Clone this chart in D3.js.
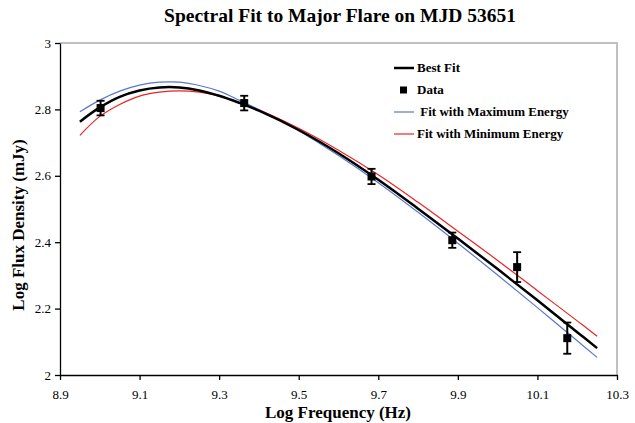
<!DOCTYPE html>
<html>
<head>
<meta charset="utf-8">
<script src="https://cdn.jsdelivr.net/npm/d3@7"></script>
<style>
  body { margin: 0; background: #fff; }
  svg { display: block; font-family: "Liberation Serif", "Times New Roman", serif; }
</style>
</head>
<body>
<div id="chart"></div>
<script>
// fit curves sampled at these log frequencies
const fitFreq = [8.95, 9.0, 9.05, 9.1, 9.15, 9.2, 9.25, 9.3, 9.35, 9.4, 9.5, 9.6, 9.7, 9.8, 9.9, 10.0, 10.1, 10.2, 10.25];
const bestFit = [2.763, 2.806, 2.838, 2.857, 2.866, 2.866, 2.857, 2.841, 2.820, 2.796, 2.738, 2.668, 2.588, 2.501, 2.411, 2.319, 2.225, 2.129, 2.081];
const maxEnergyFit = [2.793, 2.828, 2.855, 2.873, 2.882, 2.882, 2.872, 2.855, 2.828, 2.799, 2.736, 2.661, 2.579, 2.490, 2.397, 2.301, 2.203, 2.103, 2.053];
const minEnergyFit = [2.722, 2.779, 2.815, 2.840, 2.852, 2.856, 2.852, 2.840, 2.821, 2.799, 2.743, 2.677, 2.603, 2.520, 2.433, 2.345, 2.254, 2.163, 2.117];

// observed points
const dataFreq = [9.002, 9.363, 9.683, 9.886, 10.049, 10.175];
const dataFlux = [2.804, 2.819, 2.598, 2.406, 2.325, 2.111];
const dataErr = [0.022, 0.022, 0.023, 0.023, 0.045, 0.047];

const xTicks = [8.9, 9.1, 9.3, 9.5, 9.7, 9.9, 10.1, 10.3];
const yTicks = [2, 2.2, 2.4, 2.6, 2.8, 3];

const legendItems = [
    { label: "Best Fit", type: "line", color: "#000", width: 2.5 },
    { label: "Data", type: "marker", color: "#000" },
    { label: " Fit with Maximum Energy", type: "line", color: "#5a78cc", width: 1.2 },
    { label: "Fit with Minimum Energy", type: "line", color: "#ee2222", width: 1.2 }
];

const width = 635;
const height = 423;
const margin = { top: 43, right: 18, bottom: 48, left: 60 };

const svg = d3.select("#chart").append("svg")
    .attr("width", width)
    .attr("height", height);

const x = d3.scaleLinear()
    .domain([8.9, 10.3])
    .range([margin.left, width - margin.right]);

const y = d3.scaleLinear()
    .domain([2, 3])
    .range([height - margin.bottom, margin.top]);

// plot area border (top and right, grey)
svg.append("path")
    .attr("d", `M${x(8.9)},${y(3)}H${x(10.3)}V${y(2)}`)
    .attr("fill", "none")
    .attr("stroke", "#c0c0c0")
    .attr("stroke-width", 2);

const xAxis = svg.append("g")
    .attr("transform", `translate(0, ${y(2)})`)
    .call(d3.axisBottom(x).tickValues(xTicks).tickSize(5).tickSizeOuter(0).tickFormat(d3.format(".1f")));

const yAxis = svg.append("g")
    .attr("transform", `translate(${x(8.9)}, 0)`)
    .call(d3.axisLeft(y).tickValues(yTicks).tickSize(5).tickSizeOuter(0).tickFormat((d) => d3.format("~g")(d)));

[xAxis, yAxis].forEach((ax) => {
    ax.selectAll(".domain").attr("stroke", "#000").attr("stroke-width", 1.3);
    ax.selectAll(".tick line").attr("stroke", "#000").attr("stroke-width", 1.3);
    ax.selectAll("text")
        .attr("font-family", "Liberation Serif, serif")
        .attr("font-size", 13)
        .attr("fill", "#000");
});
xAxis.selectAll("text").attr("dy", "1.25em");
yAxis.selectAll("text").attr("x", -9);

const line = d3.line()
    .x((d) => x(d[0]))
    .y((d) => y(d[1]))
    .curve(d3.curveCatmullRom.alpha(0.5));

const curves = [
    { values: minEnergyFit, color: "#ee2222", width: 1.2 },
    { values: maxEnergyFit, color: "#5a78cc", width: 1.2 },
    { values: bestFit, color: "#000", width: 2.5 }
];

svg.append("g")
    .selectAll("path")
    .data(curves)
    .join("path")
    .attr("fill", "none")
    .attr("stroke", (d) => d.color)
    .attr("stroke-width", (d) => d.width)
    .attr("d", (d) => line(fitFreq.map((f, i) => [f, d.values[i]])));

// data with error bars
const points = dataFreq.map((f, i) => ({ f, v: dataFlux[i], e: dataErr[i] }));
const pts = svg.append("g").selectAll("g").data(points).join("g");

pts.append("line")
    .attr("x1", (d) => x(d.f)).attr("x2", (d) => x(d.f))
    .attr("y1", (d) => y(d.v + d.e)).attr("y2", (d) => y(d.v - d.e))
    .attr("stroke", "#000").attr("stroke-width", 2);

pts.selectAll(".cap")
    .data((d) => [d.v + d.e, d.v - d.e].map((v) => ({ f: d.f, v })))
    .join("line")
    .attr("x1", (d) => x(d.f) - 4).attr("x2", (d) => x(d.f) + 4)
    .attr("y1", (d) => y(d.v)).attr("y2", (d) => y(d.v))
    .attr("stroke", "#000").attr("stroke-width", 1.8);

pts.append("rect")
    .attr("x", (d) => x(d.f) - 4)
    .attr("y", (d) => y(d.v) - 4)
    .attr("width", 8)
    .attr("height", 8)
    .attr("fill", "#000");

// title and axis labels
svg.append("text")
    .attr("x", 340)
    .attr("y", 22)
    .attr("text-anchor", "middle")
    .attr("font-size", 19.5)
    .attr("font-weight", 700)
    .text("Spectral Fit to Major Flare on MJD 53651");

svg.append("text")
    .attr("x", 338)
    .attr("y", 418)
    .attr("text-anchor", "middle")
    .attr("font-size", 17)
    .attr("font-weight", 700)
    .text("Log Frequency (Hz)");

svg.append("text")
    .attr("transform", `translate(24, 225) rotate(-90)`)
    .attr("text-anchor", "middle")
    .attr("font-size", 17)
    .attr("font-weight", 700)
    .text("Log Flux Density (mJy)");

// legend
const legend = svg.append("g").attr("transform", "translate(394, 68)");
const items = legend.selectAll("g")
    .data(legendItems)
    .join("g")
    .attr("transform", (_, i) => `translate(0, ${i * 22})`);

items.filter((d) => d.type === "line").append("line")
    .attr("x1", 0).attr("x2", 20)
    .attr("stroke", (d) => d.color)
    .attr("stroke-width", (d) => d.width);

items.filter((d) => d.type === "marker").append("rect")
    .attr("x", 6).attr("y", -3.5)
    .attr("width", 7).attr("height", 7)
    .attr("fill", (d) => d.color);

items.append("text")
    .attr("x", 23)
    .attr("y", 4)
    .attr("font-size", 13)
    .attr("font-weight", 700)
    .attr("xml:space", "preserve")
    .style("white-space", "pre")
    .text((d) => d.label);
</script>
</body>
</html>
